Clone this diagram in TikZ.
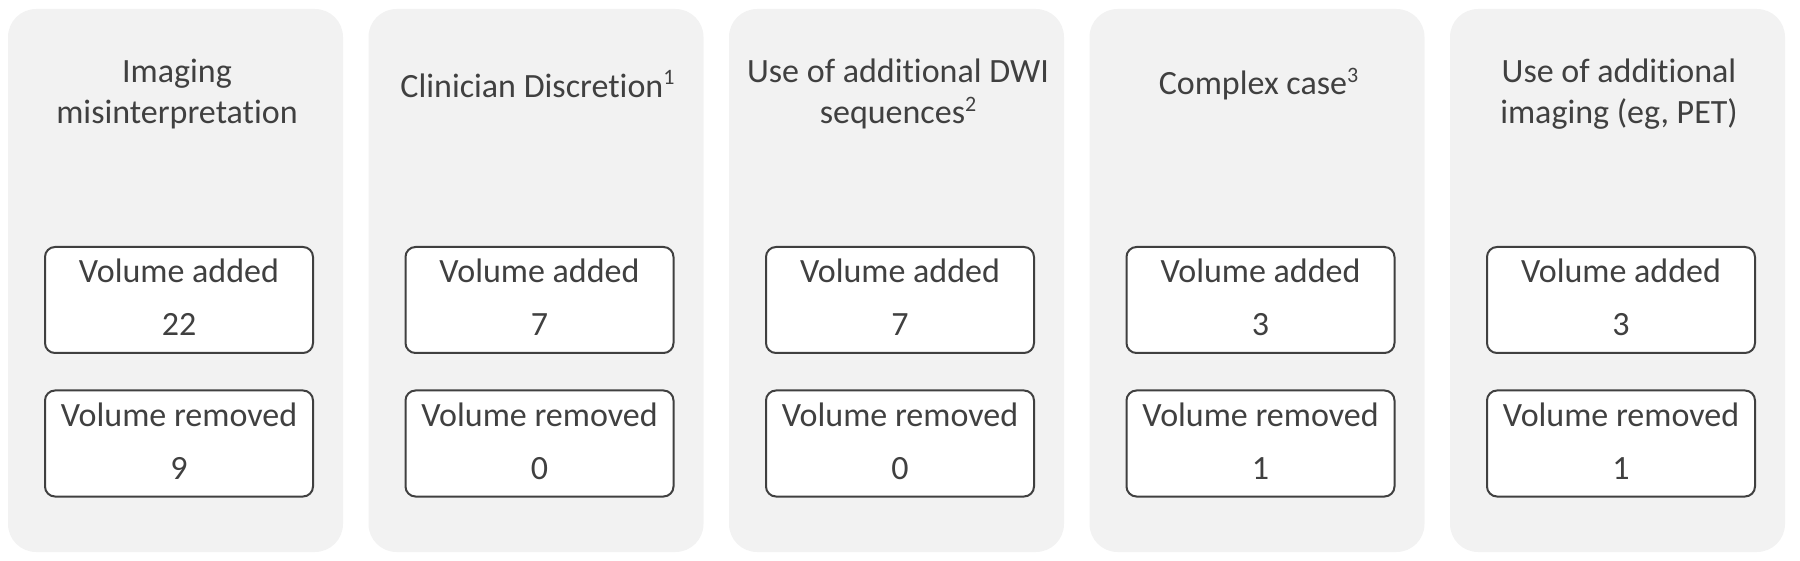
\documentclass[tikz,border=0pt]{standalone}
\usepackage{fontspec}
\setmainfont[Ligatures=CommonOff]{Carlito}
\definecolor{panelfill}{HTML}{F2F2F2}
\definecolor{txt}{HTML}{404040}
\definecolor{boxline}{HTML}{404040}
\newcommand{\supnum}[1]{\smash{\raisebox{0.36em}{\fontsize{22}{22}\selectfont #1}}}
\begin{document}
\begin{tikzpicture}[x=1pt,y=-1pt,
  panel/.style={fill=panelfill, draw=none, rounded corners=28pt},
  vbox/.style={draw=boxline, fill=white, line width=2pt, rounded corners=10pt, minimum width=268pt, minimum height=106pt, inner sep=0pt},
  lbl/.style={text=txt, font=\fontsize{34}{41}\selectfont, inner sep=0pt}]
\path[use as bounding box] (0,0) rectangle (1800,561);
\foreach \i/\t/\ty/\a/\r in {0/{Imaging\\misinterpretation}/94/22/9,
                         1/{Clinician Discretion\supnum{1}}/85.5/7/0,
                         2/{Use of additional DWI\\sequences\supnum{2}}/94/7/0,
                         3/{Complex case\supnum{3}}/85.5/3/1,
                         4/{Use of additional\\imaging (eg, PET)}/94/3/1} {
  \pgfmathsetmacro\L{8+360.5*\i}
  \fill[panel] (\L,9) rectangle ++(335,543);
  \node[lbl, align=center] (title\i) at (\L+169,\ty) {\t};
  \node[vbox] (add\i) at (\L+171,300) {};
  \node[lbl, anchor=base] (addl\i) at (\L+171,283) {Volume added};
  \node[lbl, anchor=base] (addn\i) at (\L+171,336) {\a};
  \node[vbox] (rem\i) at (\L+171,443.5) {};
  \node[lbl, anchor=base] (reml\i) at (\L+171,426) {Volume removed};
  \node[lbl, anchor=base] (remn\i) at (\L+171,479) {\r};
}
\end{tikzpicture}
\end{document}
